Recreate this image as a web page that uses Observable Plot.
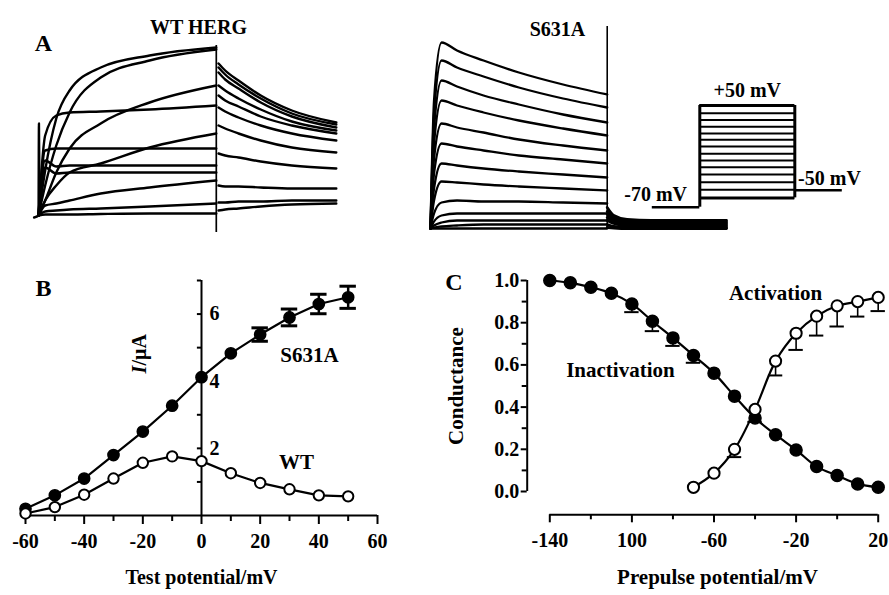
<!DOCTYPE html>
<html><head><meta charset="utf-8">
<script src="https://cdn.jsdelivr.net/npm/d3@7"></script>
<script src="https://cdn.jsdelivr.net/npm/@observablehq/plot@0.6"></script>
<style>
body{margin:0;background:#fff;}
#fig{position:relative;width:889px;height:595px;overflow:hidden;background:#fff;}
#fig svg{position:absolute;}
</style></head><body><div id="fig"></div>
<script>
// ---------- Panel A: WT HERG current traces (time ms, current in 0.1 uA units) ----------
const wtStepTimes = [0, 150, 400, 700, 1400, 2500, 4000];
const wtStepTraces = [
  [0, 4.5, 9.7, 12.5, 14.8, 16.0, 16.8],
  [0, 3.0, 7.0, 10.3, 13.8, 15.5, 16.6],
  [0, 8.0, 10.0, 10.3, 10.4, 10.6, 11.0],
  [0, 1.5, 4.3, 6.7, 9.2, 11.3, 13.0],
  [0, 6.5, 6.7, 6.7, 6.7, 6.7, 6.7],
  [0, 1.5, 3.0, 4.3, 5.2, 6.8, 8.2],
  [0, 5.5, 4.9, 5.0, 5.0, 5.0, 5.0],
  [0, 4.8, 4.2, 4.3, 4.3, 4.3, 4.3],
  [0, 1.0, 1.2, 1.5, 2.2, 2.8, 3.5],
  [0, 0.4, 0.5, 0.6, 0.7, 0.9, 1.2],
  [0, 0.1, 0.1, 0.1, 0.15, 0.2, 0.2]
];
const wtTailTimes = [4050, 4200, 4500, 5000, 5700, 6700];
const wtTailTraces = [
  [15.2, 14.5, 13.5, 12.0, 10.5, 9.3],
  [14.8, 14.1, 13.1, 11.7, 10.2, 9.1],
  [14.3, 13.6, 12.7, 11.3, 9.9, 8.8],
  [13.0, 12.5, 11.7, 10.6, 9.4, 8.5],
  [12.0, 11.5, 10.9, 9.9, 9.0, 8.2],
  [10.8, 10.4, 9.8, 9.0, 8.2, 7.5],
  [9.0, 8.7, 8.2, 7.5, 6.8, 6.3],
  [6.2, 6.0, 5.8, 5.4, 5.0, 4.7],
  [3.0, 2.9, 2.9, 2.8, 2.7, 2.7],
  [1.3, 1.3, 1.4, 1.4, 1.5, 1.5],
  [0.5, 0.6, 0.7, 0.9, 1.1, 1.2]
];
const wtSpikeTimes = [-100, 0, 10, 25];
const wtSpike = [-0.2, 0, 9.2, 0.3];
const wtStepEdge = [-1.7, 17.0];

// ---------- Panel A: S631A current traces ----------
const sStepTimes = [0, 80, 250, 600, 1200, 2000, 3000, 4000];
const sStepTraces = [
  [0, 12.8, 18.6, 17.8, 16.8, 15.6, 14.4, 13.4],
  [0, 11.5, 16.8, 16.1, 15.2, 14.1, 13.0, 12.1],
  [0, 10.0, 14.8, 14.2, 13.3, 12.4, 11.4, 10.6],
  [0, 8.5, 12.8, 12.3, 11.6, 10.8, 10.0, 9.3],
  [0, 7.0, 10.5, 10.1, 9.6, 8.9, 8.3, 7.8],
  [0, 5.5, 8.5, 8.2, 7.8, 7.3, 6.9, 6.5],
  [0, 4.0, 6.5, 6.3, 6.0, 5.7, 5.4, 5.1],
  [0, 2.8, 4.7, 4.6, 4.4, 4.2, 4.0, 3.8],
  [0, 1.5, 2.6, 2.8, 2.7, 2.7, 2.6, 2.5],
  [0, 0.7, 1.3, 1.5, 1.5, 1.5, 1.5, 1.5],
  [0, 0.3, 0.6, 0.8, 0.8, 0.8, 0.8, 0.8],
  [0, 0.1, 0.2, 0.3, 0.4, 0.4, 0.4, 0.4],
  [0, 0, 0, 0, 0, 0, 0, 0]
];
const sTailTimes = [4000, 4150, 4450, 5000, 6700];
const sTailTraces = [
  [2.1, 1.3, 0.9, 0.8, 0.8],
  [1.7, 1.1, 0.7, 0.65, 0.65],
  [1.4, 0.9, 0.55, 0.5, 0.5],
  [1.1, 0.7, 0.4, 0.35, 0.35],
  [0.8, 0.5, 0.25, 0.2, 0.2],
  [0.4, 0.2, 0.1, 0.05, 0.05],
  [0.1, 0.05, 0, 0, 0]
];
const sStepEdge = [0, 20.2];

// ---------- Voltage protocol (mV, ms) ----------
const protoTimes = [-1000, 0, 2000, 3000];
const protoLevels = [50, 41, 33, 25, 17, 9.5, 1.5, -7, -15, -23, -31.5, -40.5, -49.5, -59];
const protoHold = -70;
const protoTail = -50;

// ---------- Panel B: I-V ----------
const bVoltages = [-60, -50, -40, -30, -20, -10, 0, 10, 20, 30, 40, 50];
const bS631A = [0.2, 0.6, 1.1, 1.8, 2.5, 3.27, 4.12, 4.83, 5.39, 5.9, 6.3, 6.5];
const bS631AErr = [0, 0, 0, 0, 0, 0, 0, 0, 0.2, 0.25, 0.29, 0.33];
const bWT = [0.06, 0.25, 0.62, 1.1, 1.57, 1.76, 1.62, 1.26, 0.97, 0.78, 0.6, 0.57];
const bXTicks = [-60, -40, -20, 0, 20, 40, 60];
const bXMinor = [-50, -30, -10, 10, 30, 50];
const bYTicks = [1, 2, 3, 4, 5, 6, 7];
const bYLabels = [2, 4, 6];

// ---------- Panel C: conductance ----------
const cInactV = [-140, -130, -120, -110, -100, -90, -80, -70, -60, -50, -40, -30, -20, -10, 0, 10, 20];
const cInact = [1.0, 0.989, 0.968, 0.94, 0.889, 0.807, 0.728, 0.645, 0.561, 0.452, 0.348, 0.269, 0.197, 0.118, 0.076, 0.036, 0.02];
const cInactLow = [null, null, null, null, 0.85, 0.76, 0.69, 0.61, null, null, 0.33, null, null, null, null, null, null];
const cActV = [-70, -60, -50, -40, -30, -20, -10, 0, 10, 20];
const cAct = [0.02, 0.087, 0.2, 0.389, 0.618, 0.75, 0.831, 0.88, 0.90, 0.92];
const cActLow = [null, null, 0.163, null, 0.55, 0.671, 0.739, 0.782, 0.829, 0.855];
const cXTicks = [-140, -100, -60, -20, 20];
const cXTickLabels = ["-140", "100", "-60", "-20", "20"];
const cXMinor = [-120, -80, -40, 0];
const cYTicks = [0, 0.2, 0.4, 0.6, 0.8, 1.0];
const cYMinor = [0.1, 0.3, 0.5, 0.7, 0.9];

// ================= drawing =================
const fig = document.getElementById("fig");
const FONT = '"Liberation Serif", "Times New Roman", Times, serif';
const baseStyle = {fontFamily: FONT, fontWeight: "bold", fontSize: "20px", background: "transparent", overflow: "visible", color: "black"};
function place(svg, left, top) {
  svg.style.position = "absolute";
  svg.style.left = left + "px";
  svg.style.top = top + "px";
  fig.appendChild(svg);
}
const txt = d => d;

// WT traces
const wtRows = [];
wtStepTraces.forEach((tr, k) => tr.forEach((v, i) => wtRows.push({id: "s" + k, t: wtStepTimes[i], v})));
wtTailTraces.forEach((tr, k) => tr.forEach((v, i) => wtRows.push({id: "t" + k, t: wtTailTimes[i], v})));
wtSpike.forEach((v, i) => wtRows.push({id: "spike", t: wtSpikeTimes[i], v}));

place(Plot.plot({
  width: 400, height: 240, marginLeft: 38, marginRight: 64.2, marginTop: 45, marginBottom: 25,
  x: {domain: [0, 6700], axis: null}, y: {domain: [0, 17], axis: null},
  style: baseStyle,
  marks: [
    Plot.line(wtRows, {x: "t", y: "v", z: "id", curve: "monotone-x", stroke: "black", strokeWidth: 2.4}),
    Plot.ruleX([wtStepTimes[wtStepTimes.length - 1]], {y1: wtStepEdge[0], y2: wtStepEdge[1], strokeWidth: 1.7}),
    Plot.text(["A"], {frameAnchor: "top-left", dx: 5, dy: -12, textAnchor: "middle", fontSize: 24, text: txt}),
    Plot.text(["WT HERG"], {x: 3600, y: 18.8, text: txt, fontSize: 20})
  ]
}), 0, 0);

// S631A traces
const sStepRows = [];
sStepTraces.forEach((tr, k) => tr.forEach((v, i) => sStepRows.push({id: "s" + k, t: sStepTimes[i], v})));
const sTailRows = [];
sTailTraces.forEach((tr, k) => tr.forEach((v, i) => sTailRows.push({id: "t" + k, t: sTailTimes[i], v})));

place(Plot.plot({
  width: 489, height: 240, marginLeft: 30, marginRight: 163, marginTop: 28, marginBottom: 12,
  x: {domain: [0, 6700], axis: null}, y: {domain: [0, 20], axis: null},
  style: baseStyle,
  marks: [
    Plot.line(sStepRows, {x: "t", y: "v", z: "id", curve: "monotone-x", stroke: "black", strokeWidth: 2.3}),
    Plot.line(sTailRows, {x: "t", y: "v", z: "id", curve: "monotone-x", stroke: "black", strokeWidth: 2.8}),
    Plot.ruleX([sStepTimes[sStepTimes.length - 1]], {y1: sStepEdge[0], y2: sStepEdge[1], strokeWidth: 1.6}),
    Plot.text(["S631A"], {x: 2875, y: 19.9, text: txt, fontSize: 20})
  ]
}), 400, 0);

// Voltage protocol
place(Plot.plot({
  width: 489, height: 240, marginLeft: 251.8, marginRight: 47.2, marginTop: 105, marginBottom: 33.3,
  x: {domain: [protoTimes[0], protoTimes[3]], axis: null}, y: {domain: [protoHold, protoLevels[0]], axis: null},
  style: baseStyle,
  marks: [
    Plot.ruleY([protoHold], {x1: protoTimes[0], x2: protoTimes[1], strokeWidth: 2.6}),
    Plot.ruleX([protoTimes[1]], {y1: protoHold, y2: protoLevels[0], strokeWidth: 3}),
    Plot.ruleY(protoLevels, {x1: protoTimes[1], x2: protoTimes[2], strokeWidth: 2}),
    Plot.ruleY([protoLevels[0], protoLevels[protoLevels.length - 1]], {x1: protoTimes[1], x2: protoTimes[2], strokeWidth: 3}),
    Plot.ruleX([protoTimes[2]], {y1: protoLevels[protoLevels.length - 1], y2: protoLevels[0], strokeWidth: 3}),
    Plot.ruleY([protoTail], {x1: protoTimes[2], x2: protoTimes[3], strokeWidth: 2.6}),
    Plot.text(["+50 mV"], {x: 1000, y: protoLevels[0], dy: -15, text: txt, fontSize: 20}),
    Plot.text(["-70 mV"], {x: -930, y: protoHold, dy: -13, text: txt, fontSize: 20}),
    Plot.text(["-50 mV"], {x: 2730, y: protoTail, dy: -12, text: txt, fontSize: 20})
  ]
}), 400, 0);

// Panel B
const bRows = bVoltages.map((v, i) => ({v, s: bS631A[i], e: bS631AErr[i], w: bWT[i]}));
const bErr = bRows.filter(d => d.e > 0);
place(Plot.plot({
  width: 420, height: 345, marginLeft: 25, marginRight: 43, marginTop: 30, marginBottom: 80,
  x: {domain: [-60, 60]}, y: {domain: [0, 7], axis: null},
  style: baseStyle,
  marks: [
    Plot.ruleY([0], {strokeWidth: 2}),
    Plot.axisX({ticks: bXTicks, tickSize: 9, tickPadding: 9, tickFormat: d => String(d), strokeWidth: 2, label: null, fontSize: 20}),
    Plot.axisX({ticks: bXMinor, tickSize: 6, tickFormat: () => "", strokeWidth: 2, label: null}),
    Plot.ruleX([0], {y1: 0, y2: 7, strokeWidth: 2}),
    Plot.ruleY(bYTicks, {x1: -1.4, x2: 0, strokeWidth: 2}),
    Plot.text(bYLabels, {x: 0, y: d => d, dx: 13, text: d => String(d), fontSize: 20}),
    Plot.text(["I"], {x: -21, y: 4.23, rotate: -90, textAnchor: "start", fontStyle: "italic", text: txt, fontSize: 20}),
    Plot.text(["/\u03bcA"], {x: -21, y: 4.47, rotate: -90, textAnchor: "start", text: txt, fontSize: 20}),
    Plot.ruleX(bErr, {x: "v", y1: d => d.s - d.e, y2: d => d.s + d.e, strokeWidth: 2.5}),
    Plot.ruleY(bErr, {y: d => d.s + d.e, x1: d => d.v - 2.8, x2: d => d.v + 2.8, strokeWidth: 3}),
    Plot.ruleY(bErr, {y: d => d.s - d.e, x1: d => d.v - 2.8, x2: d => d.v + 2.8, strokeWidth: 3}),
    Plot.line(bRows, {x: "v", y: "s", strokeWidth: 2.2}),
    Plot.dot(bRows, {x: "v", y: "s", r: 5.6, fill: "black", stroke: "black"}),
    Plot.line(bRows, {x: "v", y: "w", strokeWidth: 2.2}),
    Plot.dot(bRows, {x: "v", y: "w", r: 5.2, fill: "white", stroke: "black", strokeWidth: 2}),
    Plot.text(["S631A"], {x: 36.8, y: 4.77, text: txt, fontSize: 21}),
    Plot.text(["WT"], {x: 32.4, y: 1.58, text: txt, fontSize: 21}),
    Plot.text(["B"], {frameAnchor: "top-left", dx: 18, dy: -2, textAnchor: "middle", fontSize: 24, text: txt}),
    Plot.text(["Test potential/mV"], {frameAnchor: "bottom", dy: 68, text: txt, fontSize: 20})
  ]
}), 0, 250);

// Panel C
const cInRows = cInactV.map((v, i) => ({v, g: cInact[i], lo: cInactLow[i]}));
const cAcRows = cActV.map((v, i) => ({v, g: cAct[i], lo: cActLow[i]}));
const cErr = cInRows.concat(cAcRows).filter(d => d.lo != null);
place(Plot.plot({
  width: 459, height: 345, marginLeft: 119.3, marginRight: 11.3, marginTop: 30, marginBottom: 104,
  x: {domain: [-140, 20]}, y: {domain: [0, 1]},
  style: baseStyle,
  marks: [
    Plot.ruleY([0], {dy: 23.3, strokeWidth: 2}),
    Plot.axisX({ticks: cXTicks, tickSize: 8, tickPadding: 10, dy: 23.3, strokeWidth: 2, label: null, fontSize: 20,
      tickFormat: d => cXTickLabels[cXTicks.indexOf(d)]}),
    Plot.axisX({ticks: cXMinor, tickSize: 5, dy: 23.3, strokeWidth: 2, label: null, tickFormat: () => ""}),
    Plot.ruleX([-140], {dx: -22.6, strokeWidth: 2}),
    Plot.axisY({ticks: cYTicks, tickSize: 6, tickPadding: 2, dx: -22.6, strokeWidth: 2, label: null, fontSize: 20,
      tickFormat: d3.format(".1f")}),
    Plot.axisY({ticks: cYMinor, tickSize: 5, dx: -22.6, strokeWidth: 2, label: null, tickFormat: () => ""}),
    Plot.ruleX(cErr, {x: "v", y1: "lo", y2: "g", strokeWidth: 1.6}),
    Plot.ruleY(cErr, {y: "lo", x1: d => d.v - 3.5, x2: d => d.v + 3.5, strokeWidth: 2}),
    Plot.line(cInRows, {x: "v", y: "g", curve: "catmull-rom", strokeWidth: 2.2}),
    Plot.dot(cInRows, {x: "v", y: "g", r: 6, fill: "black", stroke: "black"}),
    Plot.line(cAcRows, {x: "v", y: "g", curve: "catmull-rom", strokeWidth: 2.2}),
    Plot.dot(cAcRows, {x: "v", y: "g", r: 5.6, fill: "white", stroke: "black", strokeWidth: 2}),
    Plot.text(["Inactivation"], {x: -105.6, y: 0.573, text: txt, fontSize: 21}),
    Plot.text(["Activation"], {x: -30, y: 0.938, text: txt, fontSize: 21}),
    Plot.text(["C"], {frameAnchor: "top-left", dx: -96, dy: -8, textAnchor: "middle", fontSize: 24, text: txt}),
    Plot.text(["Conductance"], {frameAnchor: "left", dx: -94, rotate: -90, textAnchor: "middle", text: txt, fontSize: 21}),
    Plot.text(["Prepulse potential/mV"], {frameAnchor: "bottom", dx: 3.5, dy: 92, text: txt, fontSize: 21})
  ]
}), 430, 250);
</script>
</body></html>
